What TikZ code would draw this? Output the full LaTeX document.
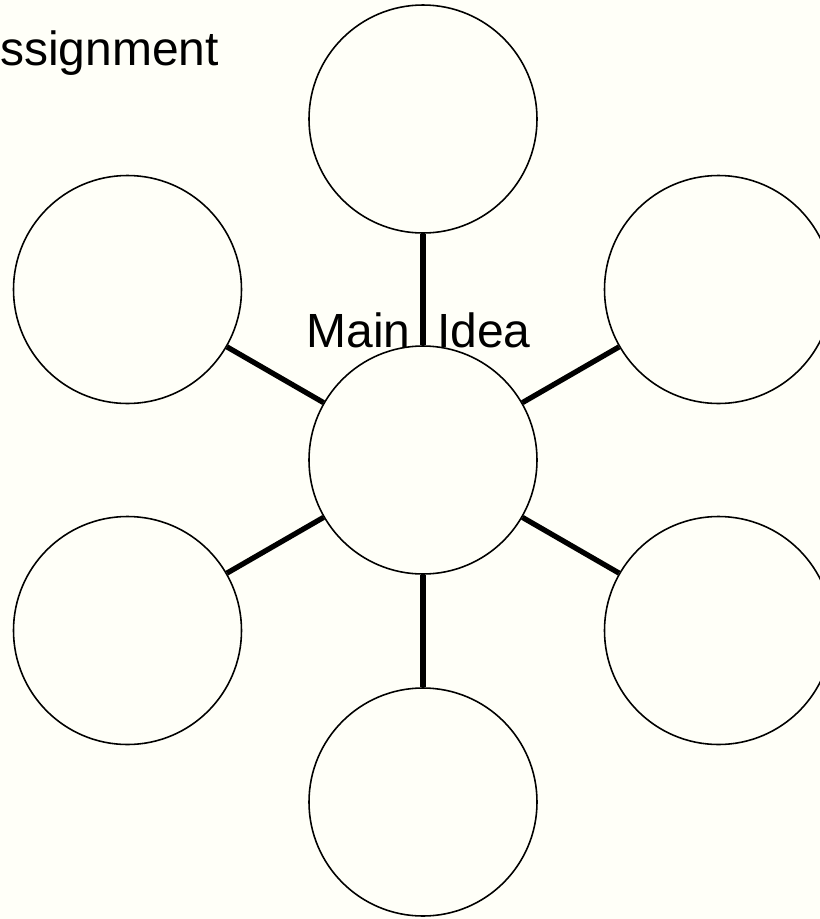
\documentclass[tikz,border=0pt]{standalone}
\usepackage{fontspec}
\setmainfont{Liberation Sans}
\definecolor{paper}{RGB}{255,255,248}
\tikzset{
  bubble/.style={circle, draw, line width=0.9pt, fill=paper, minimum size=4.56cm, inner sep=0pt},
  spoke/.style={line width=3pt},
  words/.style={font=\fontsize{27.3}{33}\selectfont, inner sep=0pt}
}
\begin{document}
\begin{tikzpicture}
            \fill[paper] (0,0) rectangle (16.4,-18.38);
            \useasboundingbox (0,0) rectangle (16.4,-18.38);

            \node[bubble] (main) at (8.46,-9.2) {};
            \node[bubble] (top) at (8.46,-2.38) {};
            \node[bubble] (bottom) at (8.46,-16.04) {};
            \node[bubble] (upright) at (14.37,-5.79) {};
            \node[bubble] (lowright) at (14.37,-12.61) {};
            \node[bubble] (upleft) at (2.55,-5.79) {};
            \node[bubble] (lowleft) at (2.55,-12.61) {};

            \draw[spoke] (main)--(top);
            \draw[spoke] (main)--(bottom);
            \draw[spoke] (main)--(upright);
            \draw[spoke] (main)--(lowright);
            \draw[spoke] (main)--(upleft);
            \draw[spoke] (main)--(lowleft);

            \node[words, anchor=base west] (title) at (0,-1.31) {ssignment};
            \node[words, anchor=base] (label) at (8.37,-6.94) {Main\ \ Idea};

        \end{tikzpicture}
\end{document}
